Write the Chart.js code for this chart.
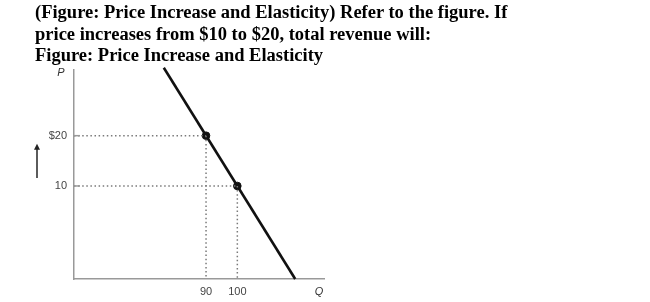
<!DOCTYPE html>
<html>
<head>
<meta charset="utf-8">
<script src="https://cdn.jsdelivr.net/npm/chart.js@4.4.1/dist/chart.umd.min.js"></script>
<style>
  body { margin: 0; background: #fff; }
  #wrap { position: relative; width: 650px; height: 302px; }
  #title {
    position: absolute; left: 35px; top: 2px;
    font: bold 18.5px "Liberation Serif", "Times New Roman", serif;
    line-height: 21.5px; color: #000;
  }
  canvas { position: absolute; left: 0; top: 0; }
</style>
</head>
<body>
<div id="wrap">
  <canvas id="chart" width="650" height="302"></canvas>
  <div id="title">(Figure: Price Increase and Elasticity) Refer to the figure. If<br>price increases from $10 to $20, total revenue will:<br>Figure: Price Increase and Elasticity</div>
</div>
<script>
// demand curve points (quantity, price)
const demandQ = [76.5, 118.5];
const demandP = [33.5, -8.5];

// marked points on the curve
const pointQ = [90, 100];
const pointP = [20, 10];

// tick labels
const priceTicks = [20, 10];
const priceLabels = ['$20', '10'];
const qtyTicks = [90, 100];
const qtyLabels = ['90', '100'];

// arrow next to the price axis (from low to high price)
const arrowP = [11.6, 18.4];

const xMin = 47.8, xMax = 127.7;
const yMin = -8.5, yMax = 33.06;

const dotted = { borderColor: '#7a7a7a', borderWidth: 1.5, borderDash: [1.5, 2.6], pointRadius: 0, showLine: true, fill: false };

const extras = {
  id: 'extras',
  afterDraw(chart) {
    const { ctx, chartArea, scales } = chart;
    ctx.save();
    // axis letters
    ctx.fillStyle = '#333';
    ctx.font = 'italic 11px "Liberation Sans", Arial, sans-serif';
    ctx.textAlign = 'center';
    ctx.textBaseline = 'middle';
    ctx.fillText('P', chartArea.left - 13, chartArea.top + 3);
    ctx.fillText('Q', chartArea.right - 5, chartArea.bottom + 13);

    // small solid ticks on price axis
    ctx.strokeStyle = '#999';
    ctx.lineWidth = 1.5;
    priceTicks.forEach(p => {
      const y = scales.y.getPixelForValue(p);
      ctx.beginPath();
      ctx.moveTo(chartArea.left, y);
      ctx.lineTo(chartArea.left + 6, y);
      ctx.stroke();
    });

    // up arrow
    const ax = chartArea.left - 37;
    const yb = scales.y.getPixelForValue(arrowP[0]);
    const yt = scales.y.getPixelForValue(arrowP[1]);
    ctx.strokeStyle = '#333';
    ctx.lineWidth = 1.6;
    ctx.beginPath();
    ctx.moveTo(ax, yb);
    ctx.lineTo(ax, yt + 4);
    ctx.stroke();
    ctx.fillStyle = '#222';
    ctx.beginPath();
    ctx.moveTo(ax, yt);
    ctx.lineTo(ax - 3, yt + 6);
    ctx.lineTo(ax + 3, yt + 6);
    ctx.closePath();
    ctx.fill();
    ctx.restore();
  }
};

new Chart(document.getElementById('chart'), {
  type: 'scatter',
  data: {
    datasets: [
      Object.assign({ data: [{ x: xMin, y: pointP[0] }, { x: pointQ[0], y: pointP[0] }] }, dotted),
      Object.assign({ data: [{ x: xMin, y: pointP[1] }, { x: pointQ[1], y: pointP[1] }] }, dotted),
      Object.assign({ data: [{ x: pointQ[0], y: pointP[0] }, { x: pointQ[0], y: yMin }] }, dotted),
      Object.assign({ data: [{ x: pointQ[1], y: pointP[1] }, { x: pointQ[1], y: yMin }] }, dotted),
      {
        data: demandQ.map((q, i) => ({ x: q, y: demandP[i] })),
        showLine: true, borderColor: '#111', borderWidth: 2.6, pointRadius: 0, clip: false
      },
      {
        data: pointQ.map((q, i) => ({ x: q, y: pointP[i] })),
        pointRadius: 3.8, backgroundColor: '#111', borderColor: '#111', showLine: false
      }
    ]
  },
  options: {
    responsive: false,
    animation: false,
    layout: { padding: { top: 70, left: 30, right: 326, bottom: 0 } },
    plugins: { legend: { display: false }, tooltip: { enabled: false } },
    scales: {
      x: {
        type: 'linear', min: xMin, max: xMax,
        afterBuildTicks: s => { s.ticks = qtyTicks.map(v => ({ value: v })); },
        afterFit: s => { s.height = 23; },
        grid: { display: false, drawTicks: false },
        border: { color: '#999', width: 1.5 },
        ticks: {
          padding: 6, color: '#444',
          font: { family: '"Liberation Sans", Arial, sans-serif', size: 11 },
          callback: v => qtyLabels[qtyTicks.indexOf(v)]
        }
      },
      y: {
        type: 'linear', min: yMin, max: yMax,
        afterBuildTicks: s => { s.ticks = priceTicks.map(v => ({ value: v })); },
        afterFit: s => { s.width = 44; },
        grid: { display: false, drawTicks: false },
        border: { color: '#999', width: 1.5 },
        ticks: {
          padding: 7, color: '#444',
          font: { family: '"Liberation Sans", Arial, sans-serif', size: 11 },
          callback: v => priceLabels[priceTicks.indexOf(v)]
        }
      }
    }
  },
  plugins: [extras]
});
</script>
</body>
</html>
